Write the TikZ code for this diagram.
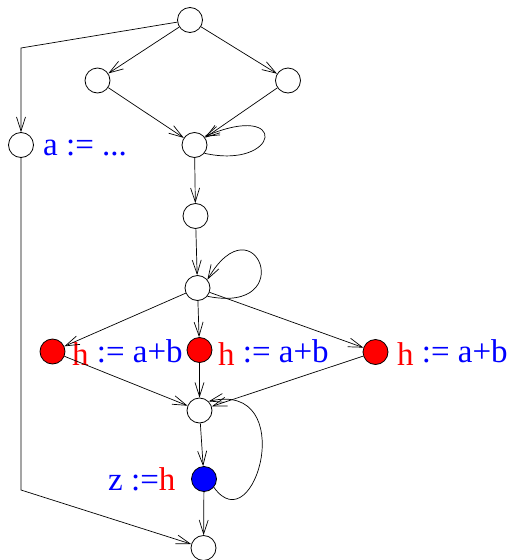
\documentclass[tikz,border=0pt]{standalone}
\usepackage{fontspec}
\setmainfont{Liberation Serif}
\usetikzlibrary{arrows.meta}
\begin{document}
\begin{tikzpicture}[x=1pt,y=-1pt,
  vtx/.style={circle,draw,line width=0.8pt,minimum size=25pt,inner sep=0pt},
  redv/.style={vtx,fill=red},
  bluev/.style={vtx,fill=blue},
  arr/.style={line width=0.7pt,-{Straight Barb[length=14pt,width=9pt,line width=0.7pt]}},
  lab/.style={anchor=base west,inner sep=0pt,font=\fontsize{33}{38}\selectfont}]
\useasboundingbox (0,0) rectangle (509,560);
\node[vtx] (n0) at (190,20) {};
\node[vtx] (n1) at (97.5,80.5) {};
\node[vtx] (n2) at (288,80.5) {};
\node[vtx] (na) at (21,145) {};
\node[vtx] (n3) at (194.5,145) {};
\node[vtx] (n4) at (195.5,216) {};
\node[vtx] (n5) at (197.5,288) {};
\node[redv] (h1) at (52.5,351.5) {};
\node[redv] (h2) at (199.5,350) {};
\node[redv] (h3) at (375.5,352) {};
\node[vtx] (n6) at (199.5,410.5) {};
\node[bluev] (z) at (204,479) {};
\node[vtx] (n7) at (203.5,548) {};
\coordinate (c1) at (21,48);
\coordinate (c2) at (21,490);
% labels
\node[lab,text=blue] (la) at (43,155) {a := ...};
\node[lab] (lh1) at (72,362) {\textcolor{red}{\raisebox{-3pt}{h}}\ \textcolor{blue}{:= a+b}};
\node[lab] (lh2) at (218,362) {\textcolor{red}{\raisebox{-3pt}{h}}\ \textcolor{blue}{:= a+b}};
\node[lab] (lh3) at (397,362) {\textcolor{red}{\raisebox{-3pt}{h}}\ \textcolor{blue}{:= a+b}};
\node[lab] (lz) at (108,490) {\textcolor{blue}{z :=}\textcolor{red}{h}};
% edges
\draw[arr] (n0) -- (n1);
\draw[arr] (n0) -- (n2);
\draw[arr] (n0) -- (c1) -- (na);
\draw[arr] (n1) -- (n3);
\draw[arr] (n2) -- (n3);
\draw[arr] (n3) -- (n4);
\draw[arr] (n4) -- (n5);
\draw[arr] (n5) -- (h1);
\draw[arr] (n5) -- (h2);
\draw[arr] (n5) -- (h3);
\draw[arr] (h1) -- (n6);
\draw[arr] (h2) -- (n6);
\draw[arr] (h3) -- (n6);
\draw[arr] (n6) -- (z);
\draw[arr] (z) -- (n7);
\draw[arr] (na) -- (c2) -- (n7);
% self loops
\draw[arr] (n3.-40) .. controls (280,170) and (290,100) .. (n3.40);
\draw[arr] (n5.-40) .. controls (300,315) and (255,198) .. (n5.40);
\draw[arr] (z.-40) .. controls (255,545) and (300,380) .. (n6.45);
\end{tikzpicture}
\end{document}
